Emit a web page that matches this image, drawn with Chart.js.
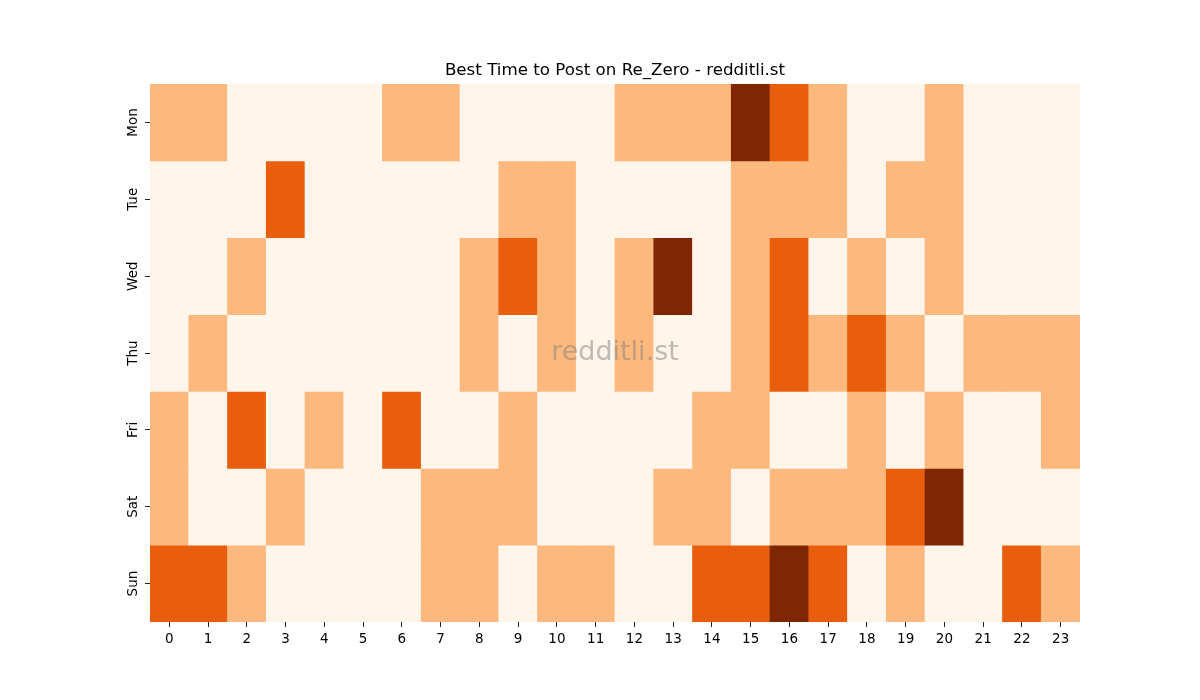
<!DOCTYPE html>
<html>
<head>
<meta charset="utf-8">
<script src="https://cdn.jsdelivr.net/npm/chart.js@4/dist/chart.umd.min.js"></script>
<style>
html,body{margin:0;padding:0;background:#fff;}
#wrap{width:1200px;height:700px;}
</style>
</head>
<body>
<div id="wrap"><canvas id="c" width="1200" height="700"></canvas></div>
<script>
const hours = ['0','1','2','3','4','5','6','7','8','9','10','11','12','13','14','15','16','17','18','19','20','21','22','23'];
const days = ['Mon','Tue','Wed','Thu','Fri','Sat','Sun'];
const mon = [1,1,0,0,0,0,1,1,0,0,0,0,1,1,1,3,2,1,0,0,1,0,0,0];
const tue = [0,0,0,2,0,0,0,0,0,1,1,0,0,0,0,1,1,1,0,1,1,0,0,0];
const wed = [0,0,1,0,0,0,0,0,1,2,1,0,1,3,0,1,2,0,1,0,1,0,0,0];
const thu = [0,1,0,0,0,0,0,0,1,0,1,0,1,0,0,1,2,1,2,1,0,1,1,1];
const fri = [1,0,2,0,1,0,2,0,0,1,0,0,0,0,1,1,0,0,1,0,1,0,0,1];
const sat = [1,0,0,1,0,0,0,1,1,1,0,0,0,1,1,0,1,1,1,2,3,0,0,0];
const sun = [2,2,1,0,0,0,0,1,1,0,1,1,0,0,2,2,3,2,0,1,0,0,2,1];
const rows = [mon, tue, wed, thu, fri, sat, sun];
const palette = ['#fff5eb', '#fdb97d', '#e95e0d', '#7f2704'];

const FONT = "'DejaVu Sans', sans-serif";

const watermark = {
  id: 'watermark',
  afterDatasetsDraw(chart) {
    const a = chart.chartArea, ctx = chart.ctx;
    ctx.save();
    ctx.font = "27px " + FONT;
    ctx.fillStyle = 'rgba(128,128,128,0.5)';
    ctx.textAlign = 'center';
    ctx.textBaseline = 'middle';
    ctx.fillText('redditli.st', (a.left + a.right) / 2, (a.top + a.bottom) / 2);
    ctx.restore();
  }
};

const datasets = days.map((d, r) => ({
  label: d,
  data: rows[r].map((v, h) => ({ x: hours[h], y: [r, r + 1] })),
  backgroundColor: rows[r].map(v => palette[v]),
  borderWidth: 0,
  barPercentage: 1,
  categoryPercentage: 1,
  grouped: false
}));

new Chart(document.getElementById('c'), {
  type: 'bar',
  data: { labels: hours, datasets },
  plugins: [watermark],
  options: {
    responsive: false,
    animation: false,
    devicePixelRatio: 1,
    layout: { padding: { left: 30, right: 0, top: 0, bottom: 0 } },
    plugins: {
      legend: { display: false },
      tooltip: { enabled: false },
      title: {
        display: true,
        text: 'Best Time to Post on Re_Zero - redditli.st',
        color: '#000',
        font: { family: FONT, size: 16.7, weight: 'normal' },
        padding: { top: 61, bottom: 3 }
      }
    },
    scales: {
      x: {
        type: 'category',
        offset: true,
        grid: { display: true, drawOnChartArea: false, offset: false, tickLength: 5, color: '#222', lineWidth: 1 },
        border: { display: false },
        ticks: { color: '#000', font: { family: FONT, size: 13.5 }, padding: 4, maxRotation: 0, autoSkip: false },
        afterFit(s) { s.height = 78; }
      },
      y: {
        type: 'linear',
        position: 'left',
        min: 0,
        max: 7,
        reverse: true,
        afterBuildTicks(s) { s.ticks = [0.5,1.5,2.5,3.5,4.5,5.5,6.5].map(v => ({ value: v })); },
        grid: { display: true, drawOnChartArea: false, tickLength: 5, color: '#222', lineWidth: 1 },
        border: { display: false },
        ticks: {
          color: '#000',
          font: { family: FONT, size: 13.5 },
          padding: -3,
          crossAlign: 'center',
          minRotation: 90,
          maxRotation: 90,
          callback: (v) => days[Math.floor(v)]
        },
        afterFit(s) { s.width = 120; }
      },
      yRight: {
        type: 'linear',
        position: 'right',
        display: true,
        min: 0,
        max: 1,
        grid: { display: false },
        border: { display: false },
        ticks: { display: false },
        afterFit(s) { s.width = 120; }
      }
    }
  }
});
</script>
</body>
</html>
